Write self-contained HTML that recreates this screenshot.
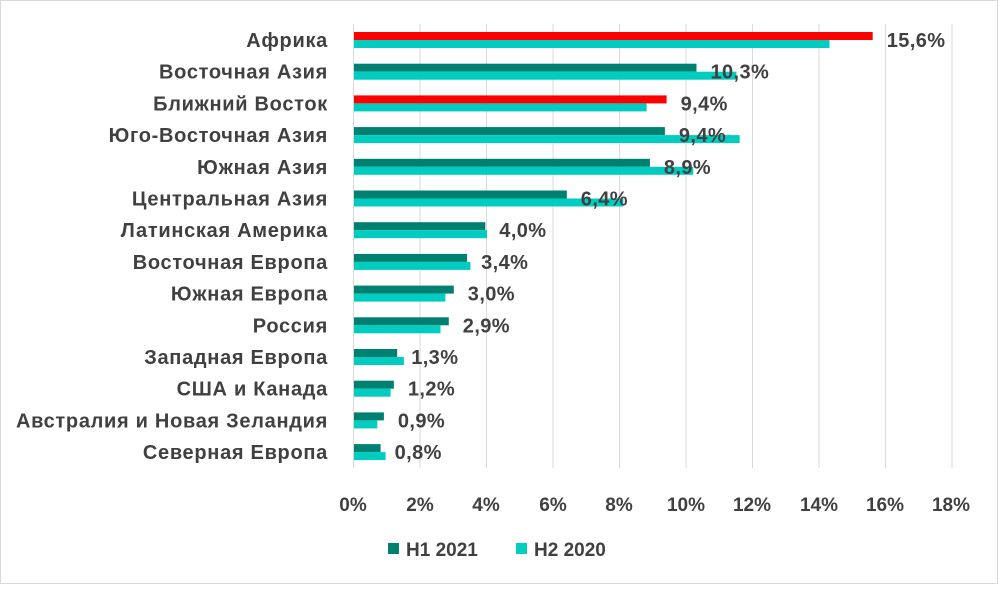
<!DOCTYPE html><html><head><meta charset="utf-8"><style>body{margin:0;background:#fff}</style></head><body>
<svg width="998" height="584" xmlns="http://www.w3.org/2000/svg" font-family="Liberation Sans, sans-serif">
<rect x="0.5" y="0.5" width="997" height="583" fill="#fff" stroke="#d9d9d9"/>
<g stroke="#d9d9d9" stroke-width="1">
<line x1="353.5" y1="24" x2="353.5" y2="468"/><line x1="420" y1="24" x2="420" y2="468"/><line x1="486.5" y1="24" x2="486.5" y2="468"/><line x1="553" y1="24" x2="553" y2="468"/><line x1="619.5" y1="24" x2="619.5" y2="468"/><line x1="686" y1="24" x2="686" y2="468"/><line x1="752.5" y1="24" x2="752.5" y2="468"/><line x1="819" y1="24" x2="819" y2="468"/><line x1="885.5" y1="24" x2="885.5" y2="468"/><line x1="952" y1="24" x2="952" y2="468"/>
</g>
<g>
<rect x="354" y="32" width="518.7" height="8" fill="#FF0000"/><rect x="354" y="40" width="475.5" height="8" fill="#00CCC0"/>
<rect x="354" y="63.7" width="342.5" height="8" fill="#008070"/><rect x="354" y="71.7" width="382.4" height="8" fill="#00CCC0"/>
<rect x="354" y="95.4" width="312.6" height="8" fill="#FF0000"/><rect x="354" y="103.4" width="292.6" height="8" fill="#00CCC0"/>
<rect x="354" y="127.1" width="310.9" height="8" fill="#008070"/><rect x="354" y="135.1" width="385.7" height="8" fill="#00CCC0"/>
<rect x="354" y="158.8" width="295.9" height="8" fill="#008070"/><rect x="354" y="166.8" width="339.2" height="8" fill="#00CCC0"/>
<rect x="354" y="190.5" width="212.8" height="8" fill="#008070"/><rect x="354" y="198.5" width="269.3" height="8" fill="#00CCC0"/>
<rect x="354" y="222.2" width="131.3" height="8" fill="#008070"/><rect x="354" y="230.2" width="133" height="8" fill="#00CCC0"/>
<rect x="354" y="253.9" width="113.1" height="8" fill="#008070"/><rect x="354" y="261.9" width="116.4" height="8" fill="#00CCC0"/>
<rect x="354" y="285.6" width="99.8" height="8" fill="#008070"/><rect x="354" y="293.6" width="91.4" height="8" fill="#00CCC0"/>
<rect x="354" y="317.3" width="94.8" height="8" fill="#008070"/><rect x="354" y="325.3" width="86.5" height="8" fill="#00CCC0"/>
<rect x="354" y="349" width="43.2" height="8" fill="#008070"/><rect x="354" y="357" width="49.9" height="8" fill="#00CCC0"/>
<rect x="354" y="380.7" width="39.9" height="8" fill="#008070"/><rect x="354" y="388.7" width="36.6" height="8" fill="#00CCC0"/>
<rect x="354" y="412.4" width="29.9" height="8" fill="#008070"/><rect x="354" y="420.4" width="23.3" height="8" fill="#00CCC0"/>
<rect x="354" y="444.1" width="26.6" height="8" fill="#008070"/><rect x="354" y="452.1" width="31.6" height="8" fill="#00CCC0"/>
</g>
<g font-size="20" font-weight="bold" fill="#404040" text-anchor="end" letter-spacing="0.7">
<text x="328" y="47">Африка</text>
<text x="328" y="78.7">Восточная Азия</text>
<text x="328" y="110.4">Ближний Восток</text>
<text x="328" y="142.1">Юго-Восточная Азия</text>
<text x="328" y="173.8">Южная Азия</text>
<text x="328" y="205.5">Центральная Азия</text>
<text x="328" y="237.2">Латинская Америка</text>
<text x="328" y="268.9">Восточная Европа</text>
<text x="328" y="300.6">Южная Европа</text>
<text x="328" y="332.3">Россия</text>
<text x="328" y="364">Западная Европа</text>
<text x="328" y="395.7">США и Канада</text>
<text x="328" y="427.4">Австралия и Новая Зеландия</text>
<text x="328" y="459.1">Северная Европа</text>
</g>
<g font-size="20" font-weight="bold" fill="#404040" letter-spacing="0.4">
<text x="886.7" y="47">15,6%</text>
<text x="710.5" y="78.7">10,3%</text>
<text x="680.6" y="110.4">9,4%</text>
<text x="678.9" y="142.1">9,4%</text>
<text x="663.9" y="173.8">8,9%</text>
<text x="580.8" y="205.5">6,4%</text>
<text x="499.3" y="237.2">4,0%</text>
<text x="481.1" y="268.9">3,4%</text>
<text x="467.8" y="300.6">3,0%</text>
<text x="462.8" y="332.3">2,9%</text>
<text x="411.2" y="364">1,3%</text>
<text x="407.9" y="395.7">1,2%</text>
<text x="397.9" y="427.4">0,9%</text>
<text x="394.6" y="459.1">0,8%</text>
</g>
<g font-size="19" font-weight="bold" fill="#404040" text-anchor="middle">
<text x="353" y="511">0%</text><text x="420" y="511">2%</text><text x="486" y="511">4%</text><text x="553" y="511">6%</text><text x="619" y="511">8%</text><text x="686" y="511">10%</text><text x="752" y="511">12%</text><text x="819" y="511">14%</text><text x="885" y="511">16%</text><text x="951" y="511">18%</text>
</g>
<rect x="388" y="543" width="11" height="11" fill="#008070"/>
<text x="406" y="556" font-size="19" font-weight="bold" fill="#404040">H1 2021</text>
<rect x="516" y="543" width="11" height="11" fill="#00CCC0"/>
<text x="534" y="556" font-size="19" font-weight="bold" fill="#404040">H2 2020</text>
</svg></body></html>
